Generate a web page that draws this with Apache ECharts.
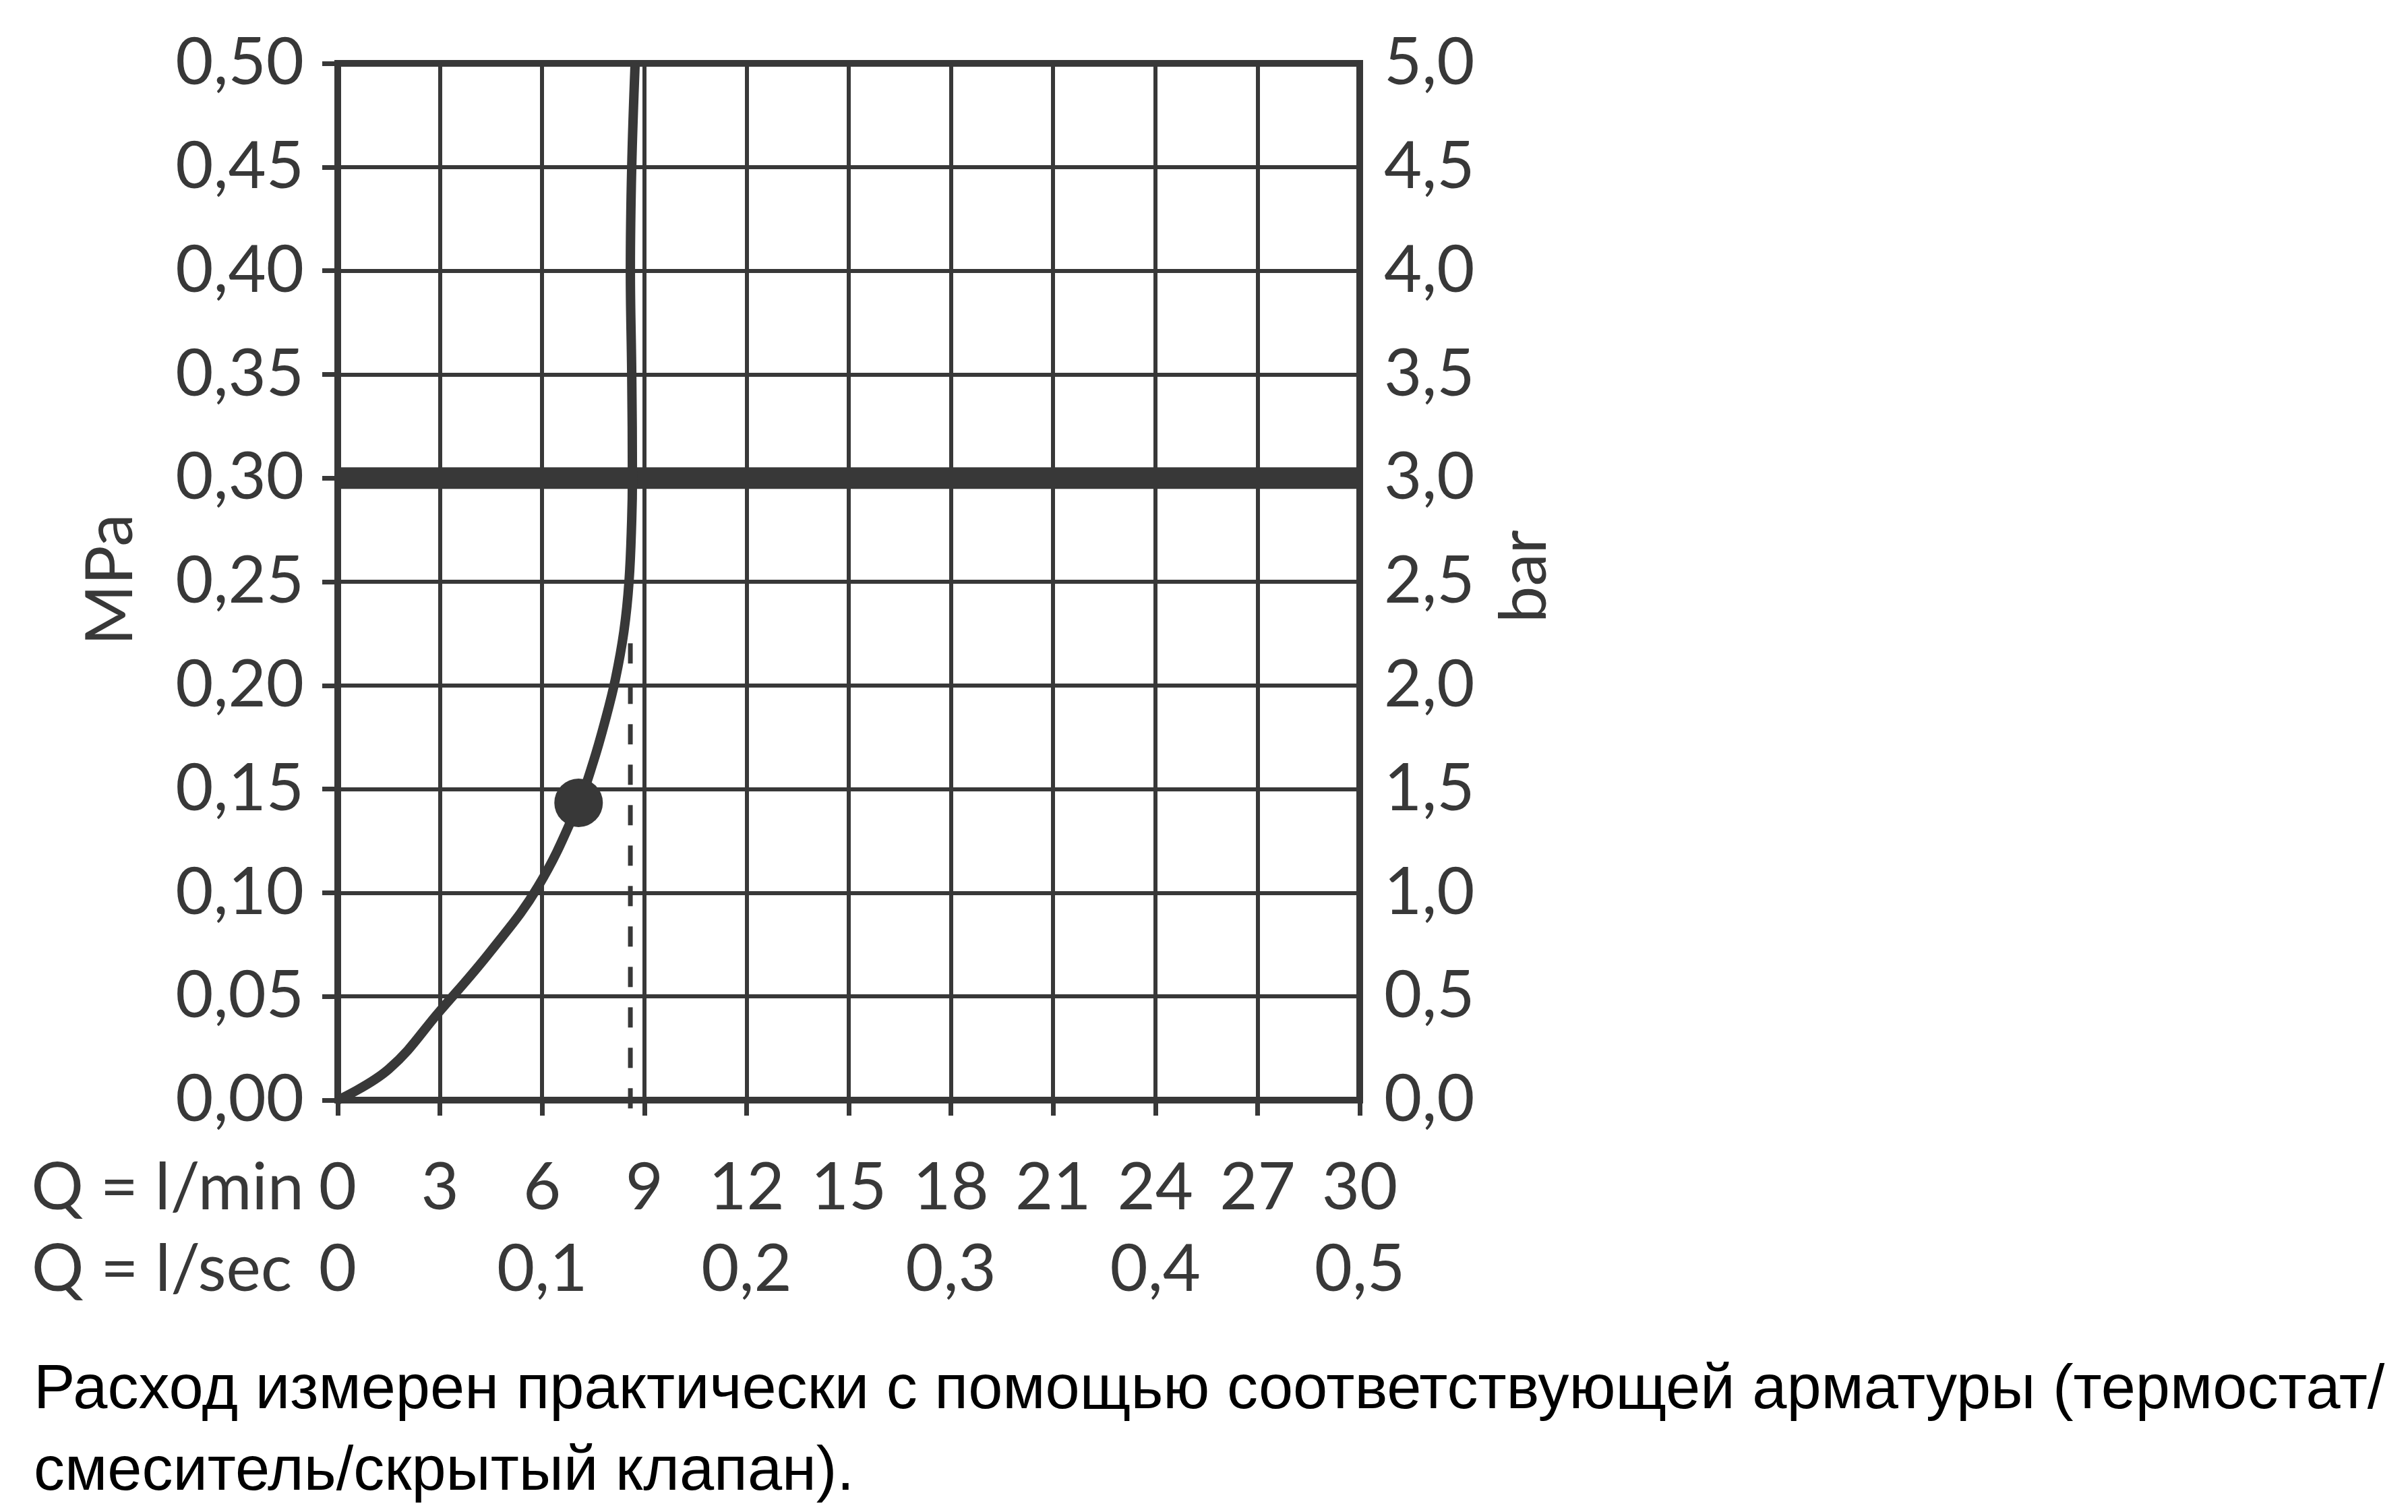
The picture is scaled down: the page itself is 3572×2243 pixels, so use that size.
<!DOCTYPE html>
<html>
<head>
<meta charset="utf-8">
<script src="https://cdn.jsdelivr.net/npm/echarts@6/dist/echarts.min.js"></script>
<style>
html,body{margin:0;padding:0;background:#fff;}
#chart{width:3572px;height:2243px;}
</style>
</head>
<body>
<div id="chart"></div>
<script>
// ---- data ----
var flowLpm     = [0, 1.5, 3.0, 4.5, 5.88, 7.07, 7.5, 7.85, 8.15, 8.40, 8.55, 8.63, 8.65, 8.63, 8.59, 8.63, 8.73];
var pressureMpa = [0, 0.015, 0.043, 0.072, 0.103, 0.143, 0.163, 0.183, 0.203, 0.226, 0.25, 0.28, 0.30, 0.35, 0.40, 0.45, 0.50];
var pointLpm = [7.07];
var pointMpa = [0.1434];
var dashLpm = [8.59, 8.59];
var dashMpa = [-0.004, 0.226];
var limitLpm = [0, 30];
var limitMpa = [0.30, 0.30];
var mpaLabels = ['0,00','0,05','0,10','0,15','0,20','0,25','0,30','0,35','0,40','0,45','0,50'];
var barLabels = ['0,0','0,5','1,0','1,5','2,0','2,5','3,0','3,5','4,0','4,5','5,0'];
var lpmLabels = ['0','3','6','9','12','15','18','21','24','27','30'];
var lsecLabels = ['0','0,1','0,2','0,3','0,4','0,5'];
var footerLines = ['Расход измерен практически с помощью соответствующей арматуры (термостат/', 'смеситель/скрытый клапан).'];

function pairs(xs, ys){ return xs.map(function(x,i){ return [x, ys[i]]; }); }

var C = '#383838';
var FONT = 'Lato';
var FS = 97;

var chart = echarts.init(document.getElementById('chart'), null, {renderer:'canvas'});
chart.setOption({
  animation: false,
  backgroundColor: '#fff',
  grid: {left: 501, top: 94, width: 1516, height: 1538, show: true, borderWidth: 10, borderColor: C, containLabel: false, outerBoundsMode: 'none'},
  xAxis: [{
    type: 'value', min: 0, max: 30, interval: 3, position: 'bottom',
    axisLine: {show: true, onZero: false, lineStyle: {color: C, width: 10}},
    axisTick: {show: true, inside: false, length: 23, lineStyle: {color: C, width: 7}},
    splitLine: {show: true, lineStyle: {color: C, width: 6}},
    axisLabel: {show: true, margin: 131, verticalAlign: 'middle', color: C, fontFamily: FONT, fontSize: FS,
      formatter: function(v, i){ return lpmLabels[i]; }}
  }, {
    type: 'value', min: 0, max: 0.5, interval: 0.1, position: 'bottom', offset: 121,
    axisLine: {show: false}, axisTick: {show: false}, splitLine: {show: false},
    axisLabel: {show: true, margin: 131, verticalAlign: 'middle', color: C, fontFamily: FONT, fontSize: FS,
      formatter: function(v, i){ return lsecLabels[i]; }}
  }],
  yAxis: [{
    type: 'value', min: 0, max: 0.5, interval: 0.05, position: 'left',
    axisLine: {show: true, onZero: false, lineStyle: {color: C, width: 9}},
    axisTick: {show: true, inside: false, length: 23, lineStyle: {color: C, width: 7}},
    splitLine: {show: true, lineStyle: {color: C, width: 6}},
    axisLabel: {show: true, margin: 50, color: C, fontFamily: FONT, fontSize: FS, padding: [0, 0, 16, 0],
      formatter: function(v, i){ return mpaLabels[i]; }}
  }, {
    type: 'value', min: 0, max: 5, interval: 0.5, position: 'right',
    axisLine: {show: true, onZero: false, lineStyle: {color: C, width: 9}},
    axisTick: {show: false}, splitLine: {show: false},
    axisLabel: {show: true, margin: 36, color: C, fontFamily: FONT, fontSize: FS, padding: [0, 0, 16, 0],
      formatter: function(v, i){ return barLabels[i]; }}
  }],
  graphic: [
    {type: 'text', x: 451, y: 1763, style: {text: 'Q = l/min', fill: C, font: FS + 'px ' + FONT, align: 'right', verticalAlign: 'middle'}},
    {type: 'text', x: 433, y: 1884, style: {text: 'Q = l/sec', fill: C, font: FS + 'px ' + FONT, align: 'right', verticalAlign: 'middle'}},
    {type: 'text', x: 165, y: 860, rotation: Math.PI/2, style: {text: 'MPa', fill: C, font: FS + 'px ' + FONT, align: 'center', verticalAlign: 'middle'}},
    {type: 'text', x: 2262, y: 855, rotation: Math.PI/2, style: {text: 'bar', fill: C, font: FS + 'px ' + FONT, align: 'center', verticalAlign: 'middle'}},
    {type: 'text', x: 50, y: 2064, style: {text: footerLines[0], fill: '#000', font: '92px "Liberation Sans"', align: 'left', verticalAlign: 'middle'}},
    {type: 'text', x: 50, y: 2185, style: {text: footerLines[1], fill: '#000', font: '92px "Liberation Sans"', align: 'left', verticalAlign: 'middle'}}
  ],
  series: [{
    type: 'line', xAxisIndex: 0, yAxisIndex: 0, data: pairs(limitLpm, limitMpa),
    symbol: 'none', lineStyle: {color: C, width: 32, cap: 'butt'}, z: 3, silent: true
  }, {
    type: 'line', xAxisIndex: 0, yAxisIndex: 0, data: pairs(dashLpm, dashMpa), clip: false,
    symbol: 'none', lineStyle: {color: C, width: 7, type: [30, 30], cap: 'butt'}, z: 3, silent: true
  }, {
    type: 'line', xAxisIndex: 0, yAxisIndex: 0, data: pairs(flowLpm, pressureMpa),
    smooth: 0.4, symbol: 'none', lineStyle: {color: C, width: 14}, z: 4, silent: true
  }, {
    type: 'scatter', xAxisIndex: 0, yAxisIndex: 0, data: pairs(pointLpm, pointMpa),
    symbol: 'circle', symbolSize: 72, itemStyle: {color: C, opacity: 1}, z: 5, silent: true
  }]
});
</script>
</body>
</html>
